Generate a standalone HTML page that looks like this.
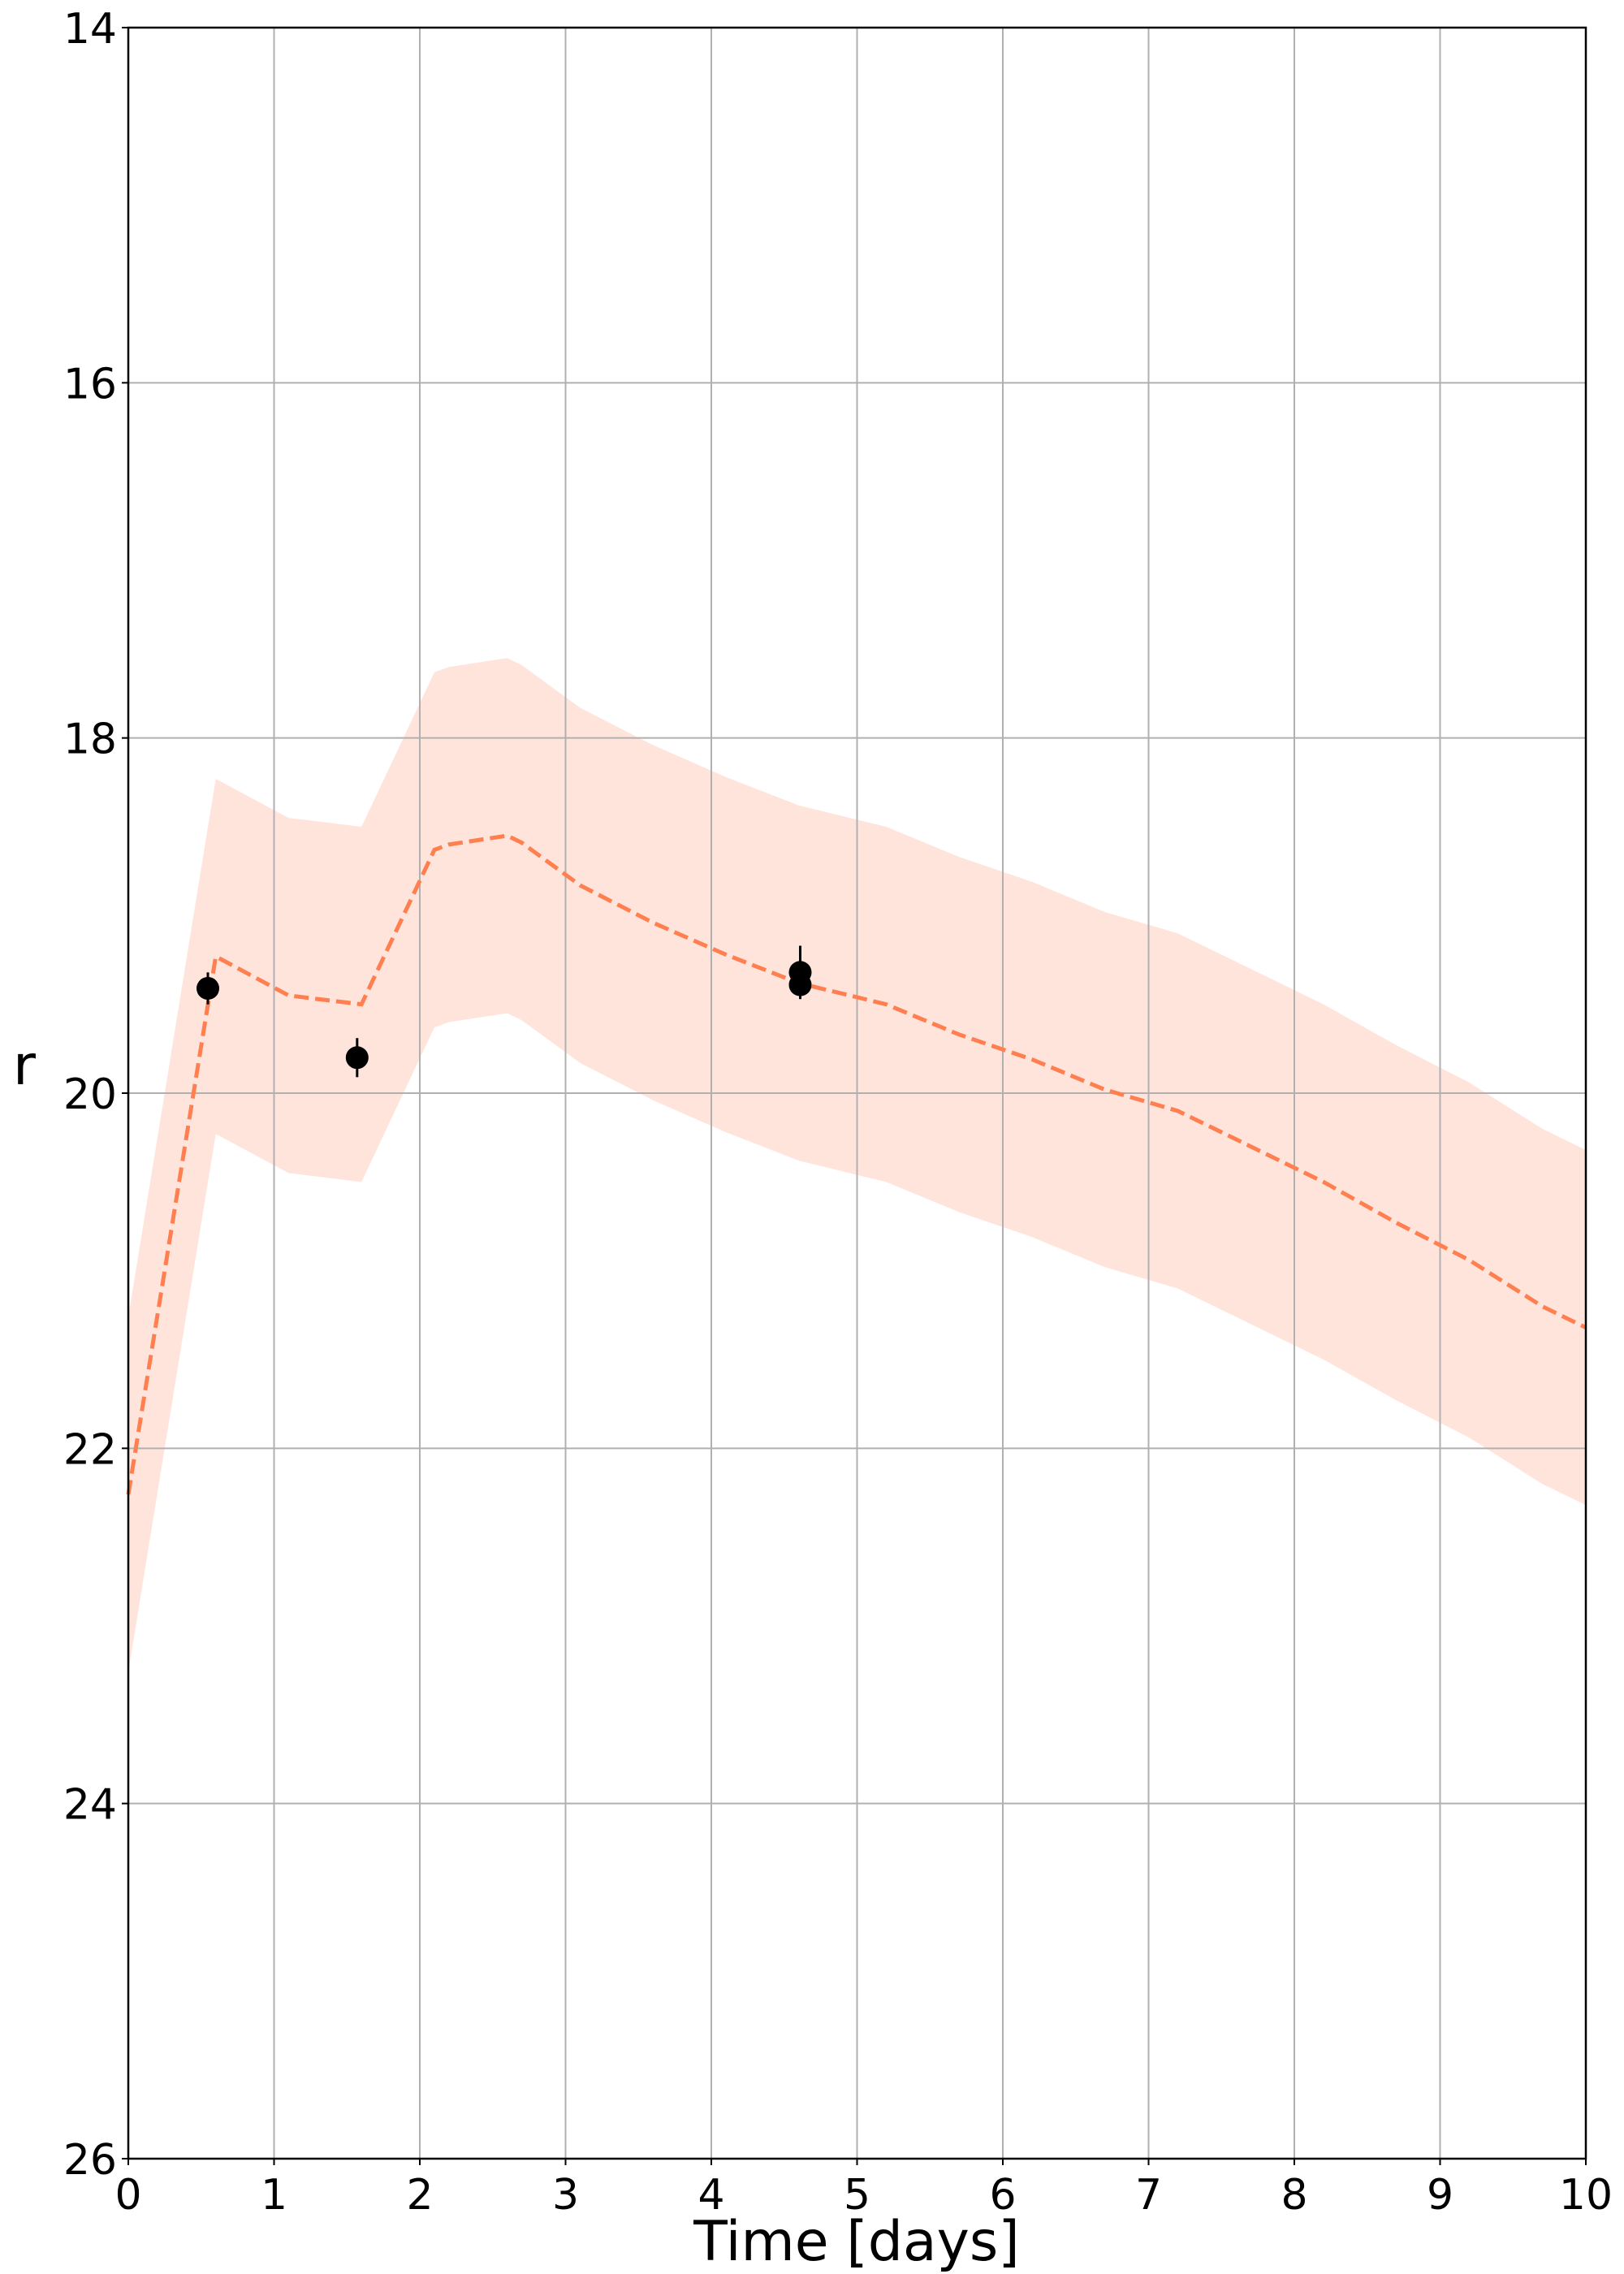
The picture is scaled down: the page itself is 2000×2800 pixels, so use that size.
<!DOCTYPE html>
<html><head><meta charset="utf-8"><style>
body{margin:0;background:#fff}
svg{display:block;font-family:"DejaVu Sans","Liberation Sans",sans-serif}
</style></head><body>
<svg id="chart" width="2000" height="2800">
<g id="band"></g>
<g id="grid"></g>
<g id="line"></g>
<g id="pts"></g>
<rect x="158" y="34" width="1795" height="2624" fill="none" stroke="#000" stroke-width="2.5"/>
<g id="ticks"></g>
<text x="1055" y="2783" font-size="68" text-anchor="middle">Time [days]</text>
<text x="30" y="1335" font-size="68" text-anchor="middle">r</text>
</svg>
<script>
const modelT=[0,0.6,1.1,1.6,2.1,2.2,2.6,2.7,3.1,3.6,4.1,4.6,5.2,5.7,6.2,6.7,7.2,7.7,8.2,8.7,9.2,9.7,10];
const modelMag=[22.26,19.23,19.45,19.5,18.63,18.6,18.55,18.59,18.83,19.04,19.22,19.38,19.5,19.67,19.81,19.98,20.1,20.3,20.5,20.73,20.94,21.2,21.32];
const bandHalf=[1,1,1,1,1,1,1,1,1,1,1,1,1,1,1,1,1,1,1,1,1,1,1];
const obsT=[0.546,1.57,4.61,4.61];
const obsMag=[19.41,19.8,19.32,19.39];
const obsErr=[0.09,0.11,0.15,0.08];
const xTicks=[0,1,2,3,4,5,6,7,8,9,10];
const yTicks=[14,16,18,20,22,24,26];
const L=158,R=1953,T=34,B=2658;
const X=v=>L+(v-0)/(10-0)*(R-L);
const Y=v=>T+(v-14)/(26-14)*(B-T);
const NS='http://www.w3.org/2000/svg';
function mk(p,tag,a){const e=document.createElementNS(NS,tag);for(const k in a)e.setAttribute(k,a[k]);p.appendChild(e);return e;}
const band=document.getElementById('band');
let up=modelT.map((t,i)=>X(t)+','+Y(modelMag[i]-bandHalf[i]));
let lo=modelT.map((t,i)=>X(t)+','+Y(modelMag[i]+bandHalf[i])).reverse();
const poly=mk(band,'polygon',{points:up.concat(lo).join(' '),fill:'#ffe4dc'});


const grid=document.getElementById('grid'),ticks=document.getElementById('ticks');
xTicks.forEach(v=>{
 const g=mk(grid,'line',{x1:X(v),x2:X(v),y1:T,y2:B,stroke:'#b0b0b0','stroke-width':2});
 
 
 mk(ticks,'line',{x1:X(v),x2:X(v),y1:B,y2:B+8,stroke:'#000','stroke-width':2});
 const t=mk(ticks,'text',{x:X(v),y:B+62,'font-size':52,'text-anchor':'middle'});t.textContent=v;
 
 
});
yTicks.forEach(v=>{
 const g=mk(grid,'line',{x1:L,x2:R,y1:Y(v),y2:Y(v),stroke:'#b0b0b0','stroke-width':2});
 
 
 mk(ticks,'line',{x1:L-8,x2:L,y1:Y(v),y2:Y(v),stroke:'#000','stroke-width':2});
 const t=mk(ticks,'text',{x:L-14,y:Y(v)+19,'font-size':52,'text-anchor':'end'});t.textContent=v;
 
 
});
const pl=mk(document.getElementById('line'),'polyline',{points:modelT.map((t,i)=>X(t)+','+Y(modelMag[i])).join(' '),fill:'none',stroke:'#ff7f50','stroke-width':5,'stroke-dasharray':'18,8'});


const pts=document.getElementById('pts');
obsT.forEach((t,i)=>{
 mk(pts,'line',{x1:X(t),x2:X(t),y1:Y(obsMag[i]-obsErr[i]),y2:Y(obsMag[i]+obsErr[i]),stroke:'#000','stroke-width':3});
 const c=mk(pts,'circle',{cx:X(t),cy:Y(obsMag[i]),r:14,fill:'#000'});
 
 
});
</script>
</body></html>
